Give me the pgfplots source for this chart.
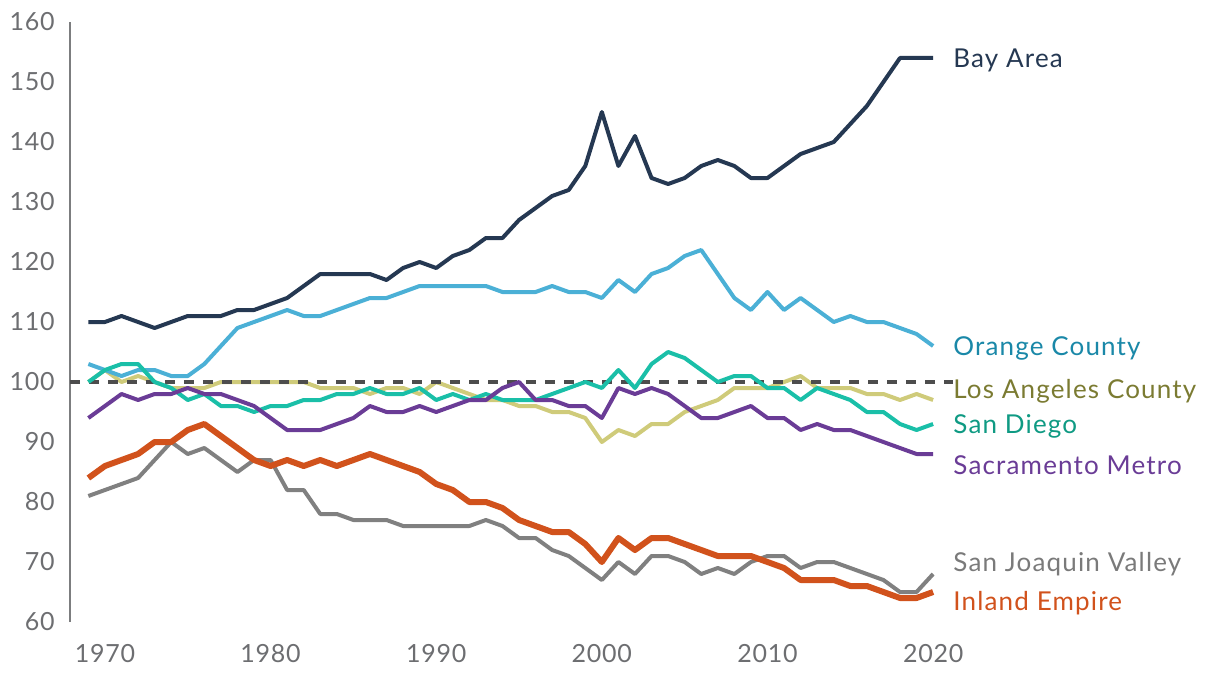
\documentclass[border=0pt]{standalone}
\usepackage{fontspec}
\setmainfont{Lato}
\newfontfamily\lblfont[LetterSpace=4.5]{Lato}
\newfontfamily\tickfont[LetterSpace=3]{Lato}
\usepackage{pgfplots}
\usepackage{pgfplotstable}
\pgfplotsset{compat=1.18}

\definecolor{bay}{HTML}{253852}
\definecolor{ocline}{HTML}{4BB0D6}
\definecolor{octext}{HTML}{1A88A8}
\definecolor{laline}{HTML}{CFCB7A}
\definecolor{latext}{HTML}{7B7B32}
\definecolor{sdline}{HTML}{1ABFA8}
\definecolor{sdtext}{HTML}{0F9A83}
\definecolor{sac}{HTML}{6A3C96}
\definecolor{sjv}{HTML}{808080}
\definecolor{ie}{HTML}{D1521C}
\definecolor{ticks}{HTML}{6D6E71}
\definecolor{dashgray}{HTML}{4D4D4D}

\tikzset{lbl/.style={anchor=west, inner sep=0pt, yshift=-1.75pt, font=\lblfont\fontsize{13}{15}\selectfont}}

% index of each region (100 = state average)
\pgfplotstableread{
year bay oc la sd sac sjv ie
1969 110 103 100 100 94 81 84
1970 110 102 102 102 96 82 86
1971 111 101 100 103 98 83 87
1972 110 102 101 103 97 84 88
1973 109 102 100 100 98 87 90
1974 110 101 99 99 98 90 90
1975 111 101 99 97 99 88 92
1976 111 103 99 98 98 89 93
1977 111 106 100 96 98 87 91
1978 112 109 100 96 97 85 89
1979 112 110 100 95 96 87 87
1980 113 111 100 96 94 87 86
1981 114 112 100 96 92 82 87
1982 116 111 100 97 92 82 86
1983 118 111 99 97 92 78 87
1984 118 112 99 98 93 78 86
1985 118 113 99 98 94 77 87
1986 118 114 98 99 96 77 88
1987 117 114 99 98 95 77 87
1988 119 115 99 98 95 76 86
1989 120 116 98 99 96 76 85
1990 119 116 100 97 95 76 83
1991 121 116 99 98 96 76 82
1992 122 116 98 97 97 76 80
1993 124 116 97 98 97 77 80
1994 124 115 97 97 99 76 79
1995 127 115 96 97 100 74 77
1996 129 115 96 97 97 74 76
1997 131 116 95 98 97 72 75
1998 132 115 95 99 96 71 75
1999 136 115 94 100 96 69 73
2000 145 114 90 99 94 67 70
2001 136 117 92 102 99 70 74
2002 141 115 91 99 98 68 72
2003 134 118 93 103 99 71 74
2004 133 119 93 105 98 71 74
2005 134 121 95 104 96 70 73
2006 136 122 96 102 94 68 72
2007 137 118 97 100 94 69 71
2008 136 114 99 101 95 68 71
2009 134 112 99 101 96 70 71
2010 134 115 99 99 94 71 70
2011 136 112 100 99 94 71 69
2012 138 114 101 97 92 69 67
2013 139 112 99 99 93 70 67
2014 140 110 99 98 92 70 67
2015 143 111 99 97 92 69 66
2016 146 110 98 95 91 68 66
2017 150 110 98 95 90 67 65
2018 154 109 97 93 89 65 64
2019 154 108 98 92 88 65 64
2020 154 106 97 93 88 68 65
}\datatable

\begin{document}
\begin{tikzpicture}
\begin{axis}[
    name=ax,
    scale only axis,
    width=441.5pt, height=300pt,
    xmin=1967.89, xmax=2021.2,
    ymin=60, ymax=160,
    xtick={1970,1980,...,2020},
    ytick={60,70,...,160},
    axis x line*=bottom,
    axis y line*=left,
    x axis line style={draw=none},
    y axis line style={draw=ticks!90, line width=1pt},
    major tick length=0pt,
    tick label style={font=\tickfont\fontsize{12.5}{14}\selectfont, text=ticks, inner sep=0pt},
    xticklabel style={anchor=north, yshift=-11pt, /pgf/number format/1000 sep={}},
    yticklabel style={anchor=east, xshift=-7.5pt},
    /pgf/number format/assume math mode=true,
    clip=false,
    every axis plot/.append style={line width=2pt, line join=round, mark=none},
]
\addplot[laline] table[x=year, y=la] {\datatable};
\addplot[color=dashgray, dash pattern=on 5pt off 4.5pt] coordinates {(1967.89,100) (2021.2,100)};
\addplot[ocline] table[x=year, y=oc] {\datatable};
\addplot[sdline] table[x=year, y=sd] {\datatable};
\addplot[sac] table[x=year, y=sac] {\datatable};
\addplot[sjv] table[x=year, y=sjv] {\datatable};
\addplot[ie, line width=3pt] table[x=year, y=ie] {\datatable};
\addplot[bay] table[x=year, y=bay] {\datatable};

\node[lbl, text=bay] at (axis cs:2021.2,154.2) {Bay Area};
\node[lbl, text=octext] at (axis cs:2021.2,106.2) {Orange County};
\node[lbl, text=latext] at (axis cs:2021.2,99) {Los Angeles County};
\node[lbl, text=sdtext] at (axis cs:2021.2,93.2) {San Diego};
\node[lbl, text=sac] at (axis cs:2021.2,86.8) {Sacramento Metro};
\node[lbl, text=sjv!95!black] at (axis cs:2021.2,70.2) {San Joaquin Valley};
\node[lbl, text=ie] at (axis cs:2021.2,63.7) {Inland Empire};
\end{axis}
\pgfresetboundingbox
\path ([shift={(-35pt,-27pt)}]ax.south west) rectangle ([shift={(133.5pt,11pt)}]ax.north east);
\end{tikzpicture}
\end{document}
